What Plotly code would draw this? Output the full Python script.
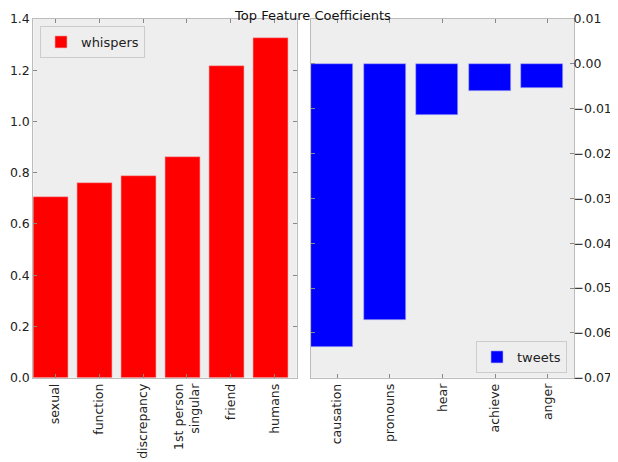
import plotly.graph_objects as go

whisper_features = ["sexual", "function", "discrepancy", "1st person<br>singular", "friend", "humans"]
whisper_values = [0.707, 0.759, 0.789, 0.860, 1.218, 1.327]

tweet_features = ["causation", "pronouns", "hear", "achieve", "anger"]
tweet_values = [-0.0632, -0.0571, -0.0113, -0.0061, -0.0053]

FONT = "DejaVu Sans"
EDGE = "#bcbcbc"

# page body has an 8px margin; figure is sized to fit the window
OFF = 8
W, H = 618 - OFF, 462 - OFF


def px(x):
    return (x - OFF) / W


def py(y):
    return 1 - (y - OFF) / H


fig = go.Figure()
fig.add_trace(go.Bar(
    x=whisper_features, y=whisper_values, name="whispers",
    marker=dict(color="#ff0000", line=dict(color="#f4b0b0", width=0.6)),
    width=0.8, offset=-0.5, xaxis="x", yaxis="y", legend="legend",
    showlegend=True,
))
fig.add_trace(go.Bar(
    x=tweet_features, y=tweet_values, name="tweets",
    marker=dict(color="#0000ff", line=dict(color="#b0b0f4", width=0.6)),
    width=0.8, offset=-0.5, xaxis="x2", yaxis="y2", legend="legend2",
    showlegend=True,
))

tickfont = dict(family=FONT, size=12.5, color="#222222")
common_axis = dict(
    showline=True, linecolor=EDGE, linewidth=1, mirror="ticks",
    ticks="inside", ticklen=4, tickcolor="#888888", tickwidth=1,
    showgrid=False, zeroline=False, automargin=False, tickfont=tickfont,
)

legend_style = dict(bgcolor="#eeeeee", bordercolor="#cccccc", borderwidth=1,
                    font=dict(family=FONT, size=13, color="#222222"))

fig.update_layout(
    width=W, height=H,
    margin=dict(l=0, r=0, t=0, b=0),
    paper_bgcolor="white", plot_bgcolor="#eeeeee",
    font=dict(family=FONT, size=13, color="#222222"),
    showlegend=True,
    title=dict(text="Top Feature Coefficients", x=px(313), xanchor="center",
               y=py(15), yanchor="middle",
               font=dict(family=FONT, size=13, color="#111111")),
    bargap=0,
    xaxis=dict(domain=[px(33.3), px(296.7)], anchor="y",
               range=[-0.5, 5.5], tickangle=-90, **common_axis),
    yaxis=dict(domain=[py(377.7), py(19)], anchor="x",
               range=[0, 1.4], dtick=0.2, tickformat=".1f", **common_axis),
    xaxis2=dict(domain=[px(311), px(574)], anchor="y2",
                range=[-0.5, 4.5], tickangle=-90, **common_axis),
    yaxis2=dict(domain=[py(377.7), py(19)], anchor="x2",
                side="right", range=[-0.07, 0.01], dtick=0.01,
                tickformat=".2f", ticklabelstandoff=-4, **common_axis),
    legend=dict(x=px(40), y=py(26), xanchor="left", yanchor="top", **legend_style),
    legend2=dict(x=px(567), y=py(373), xanchor="right", yanchor="bottom", **legend_style),
)

fig.write_html("out.html")
